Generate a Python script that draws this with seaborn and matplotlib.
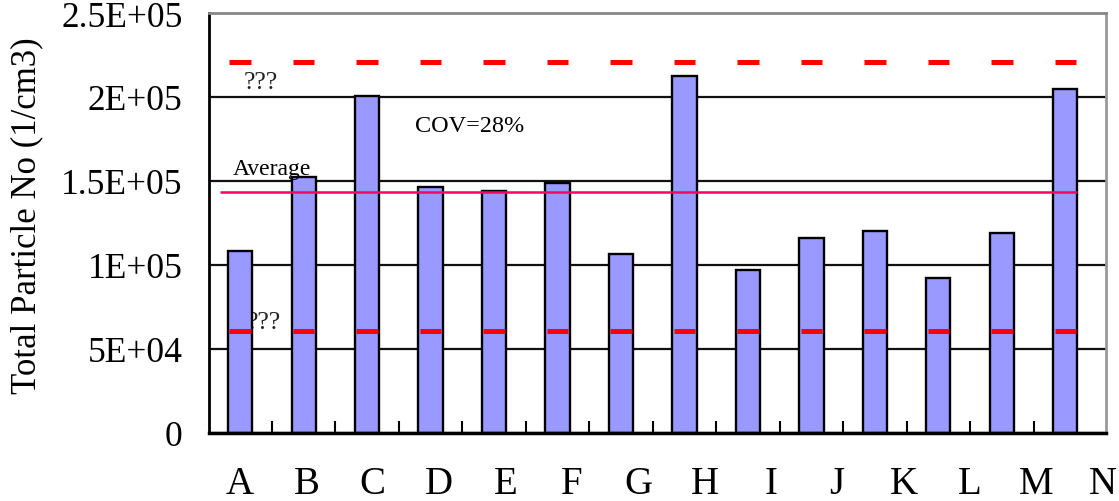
import matplotlib
matplotlib.use("Agg")
import matplotlib.pyplot as plt
import numpy as np
import pandas as pd
import seaborn as sns

# Sample categories and measured total particle number concentrations (1/cm3)
categories = list("ABCDEFGHIJKLMN")
particle_counts = [108200, 152300, 200600, 146200, 144300, 148700, 106300,
                   212600, 97100, 115800, 120300, 92400, 119000, 204800]

# Reference levels
average_value = 143700
upper_limit = 221100
lower_limit = 60600

y_ticks = [0, 50000, 100000, 150000, 200000, 250000]
y_tick_labels = ["0", "5E+04", "1E+05", "1.5E+05", "2E+05", "2.5E+05"]
cov_text = "COV=28%"
unknown_text = "???"
average_text = "Average"
y_title = "Total Particle No (1/cm3)"

sns.set_theme(style="white")
plt.rcParams["font.family"] = ["Liberation Serif", "DejaVu Serif"]

fig = plt.figure(figsize=(11.19, 5.02), dpi=100)
ax = fig.add_axes([209 / 1119, 1 - 434 / 502, 897 / 1119, 420 / 502])

df = pd.DataFrame({"sample": categories, "count": particle_counts})
bar_width = 0.38
sns.barplot(data=df, x="sample", y="count", color="#9999FF", saturation=1,
            width=bar_width, edgecolor="black", linewidth=1.7, ax=ax,
            zorder=2)

n = len(categories)
pos = np.arange(n)

ax.set_xlim(-0.49, n - 1 + 0.64)
ax.set_ylim(y_ticks[0], y_ticks[-1])

# Horizontal gridlines behind the bars
ax.set_axisbelow(True)
ax.set_yticks(y_ticks, y_tick_labels)
ax.yaxis.grid(True, color="#111111", linewidth=1.6)
ax.xaxis.grid(False)

# Average line
ax.hlines(average_value, -0.31, n - 1 + bar_width / 2, color="#FF0066",
          linewidth=1.8, zorder=3)

# Upper / lower limit dashes, one per sample
dash_half = 0.17
ax.hlines([upper_limit] * n, pos - dash_half, pos + dash_half, color="#FF0000",
          linewidth=3.6, zorder=3)
ax.hlines([lower_limit] * n, pos - dash_half, pos + dash_half, color="#FF0000",
          linewidth=3.6, zorder=3)

# Annotations
ax.text(0.33, 205400, unknown_text, ha="center", va="baseline", fontsize=18.5,
        color="#222222", zorder=3)
ax.text(0.38, 62600, unknown_text, ha="center", va="baseline", fontsize=18.5,
        color="#222222", zorder=1)
ax.text(0.50, 154000, average_text, ha="center", va="baseline", fontsize=17,
        color="black", zorder=3)
ax.text(3.62, 179500, cov_text, ha="center", va="baseline", fontsize=17.5,
        color="black", zorder=3)

# Category labels spread slightly wider than the bars
ax.set_xticks(pos * 1.045, categories)
ax.set_xticks(pos[:-1] + 0.5, minor=True)
ax.tick_params(axis="x", which="major", length=0, pad=23, labelsize=28,
               colors="black")
ax.tick_params(axis="x", which="minor", direction="in", length=8.5, width=1.5,
               color="black", bottom=True)
ax.tick_params(axis="y", length=0, pad=19, labelsize=25.5, colors="black")
ax.set_xlabel("")

ax.set_ylabel(y_title, fontsize=25, color="black")
ax.yaxis.label.set_va("center")
ax.yaxis.set_label_coords(-0.203, 0.52)

# Frame
ax.spines["left"].set_color("black")
ax.spines["left"].set_linewidth(2)
ax.spines["bottom"].set_color("black")
ax.spines["bottom"].set_linewidth(2.5)
ax.spines["top"].set_color("#888888")
ax.spines["top"].set_linewidth(2)
ax.spines["right"].set_color("#999999")
ax.spines["right"].set_linewidth(2)

fig.savefig("out.png", dpi=100)
